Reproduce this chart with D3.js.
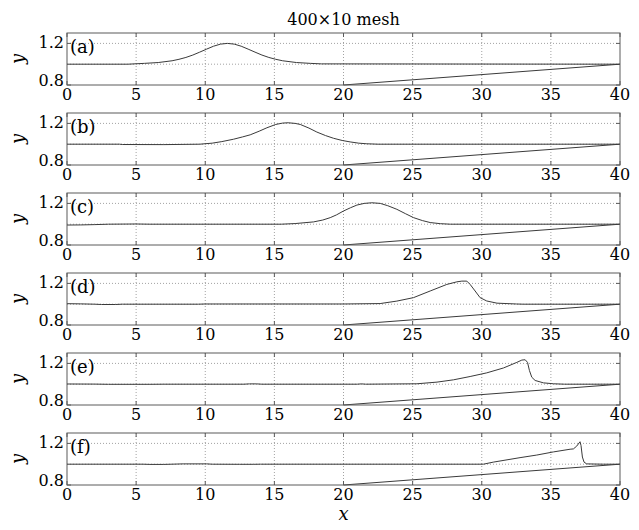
<!DOCTYPE html>
<html>
<head>
<meta charset="utf-8">
<script src="https://cdn.jsdelivr.net/npm/d3@7"></script>
<style>
  body { margin: 0; background: #fff; }
  svg { display: block; }
  text { font-family: "DejaVu Serif", "Liberation Serif", serif; fill: #000; }
</style>
</head>
<body>
<script>
// ---------- data ----------
const titleText = "400\u00d710 mesh";
const panelLabels = ["(a)", "(b)", "(c)", "(d)", "(e)", "(f)"];
const xTicks = [0, 5, 10, 15, 20, 25, 30, 35, 40];
const yTickLabels = [0.8, 1.2];
const yGrid = [1.0, 1.2];
const xDomain = [0, 40];
const yDomain = [0.8, 1.3];

// bottom topography (sloping beach)
const bottom = [[20, 0.8], [40, 1.0]];

// free-surface elevation in each panel, [x, y]
const surfA = [[0,1.0],[4.4,1.0],[5.6,1.008],[6.6,1.016],[7.6,1.033],[8.1,1.047],[8.6,1.065],[9.1,1.088],[9.6,1.116],[10.1,1.145],[10.6,1.173],[11.1,1.193],[11.6,1.2],[12.1,1.193],[12.6,1.173],[13.1,1.145],[13.6,1.116],[14.1,1.088],[14.6,1.065],[15.1,1.047],[15.6,1.033],[16.6,1.016],[17.6,1.008],[18.4,1.003],[40,1.0]];
const surfB = [[0,1.0],[3.8,1.0],[4,0.997],[7,0.996],[9.6,1.0],[10.5,1.01],[11.2,1.025],[12.05,1.048],[12.7,1.07],[13.25,1.09],[13.9,1.125],[14.46,1.158],[15.1,1.19],[15.6,1.203],[16.0,1.206],[16.5,1.2],[16.87,1.19],[17.5,1.155],[18.07,1.117],[18.7,1.083],[19.28,1.057],[19.9,1.036],[20.48,1.022],[21.1,1.01],[21.69,1.004],[22.5,1.0],[40,1.0]];
const surfC = [[0,0.992],[1,0.993],[2,0.996],[3,1.0],[5,1.002],[6,1.0],[15.5,1.0],[16.5,1.006],[17.83,1.022],[18.5,1.04],[19.04,1.063],[19.5,1.09],[20.0,1.127],[20.5,1.158],[20.97,1.184],[21.5,1.2],[22.05,1.206],[22.66,1.2],[23.2,1.178],[23.86,1.143],[24.5,1.1],[25.07,1.063],[25.7,1.035],[26.27,1.016],[27,1.005],[27.72,1.0],[40,1.0]];
const surfD = [[0,1.005],[1,1.003],[2,1.0],[2.5,0.997],[3.5,0.997],[4,1.0],[9.5,1.0],[10,1.002],[20,1.002],[22.65,1.006],[23.86,1.03],[25.06,1.063],[26.27,1.127],[27.47,1.19],[28.2,1.215],[28.56,1.222],[28.92,1.222],[29.16,1.19],[29.52,1.127],[29.88,1.063],[30.36,1.031],[31.1,1.01],[32.5,1.002],[33,1.0],[40,1.0]];
const surfE = [[0,1.002],[2,1.001],[3,0.999],[6,0.999],[7,1.0],[12.8,1.0],[13.2,1.003],[13.7,1.003],[14.1,1.0],[21,1.0],[21.3,1.003],[21.6,1.0],[25.31,1.004],[26.76,1.02],[27.95,1.042],[29.16,1.074],[30.36,1.109],[31.57,1.156],[32.54,1.21],[32.9,1.232],[33.14,1.235],[33.31,1.21],[33.45,1.131],[33.62,1.067],[33.86,1.036],[34.46,1.013],[35.19,1.004],[36,1.0],[40,1.0]];
const surfF = [[0,1.0],[5.5,1.0],[6,0.998],[7,0.998],[8.4,1.003],[10.1,1.003],[10.5,1.0],[12.5,0.999],[13.5,0.999],[14,1.0],[30.12,1.0],[30.84,1.02],[32.77,1.063],[33.98,1.088],[35.18,1.118],[36.39,1.144],[36.63,1.147],[36.87,1.174],[37.11,1.216],[37.18,1.18],[37.28,1.069],[37.4,1.02],[37.59,1.003],[38.8,1.0],[40,1.0]];
const surfaces = [surfA, surfB, surfC, surfD, surfE, surfF];

// ---------- layout ----------
const W = 639, H = 530;
const left = 67, right = 620;
const panelTop0 = 33, panelStep = 80, panelH = 52;

const svg = d3.select("body").append("svg").attr("width", W).attr("height", H);

const x = d3.scaleLinear().domain(xDomain).range([left, right]);

svg.append("text")
  .attr("x", (left + right) / 2).attr("y", 25)
  .attr("text-anchor", "middle").attr("font-size", 16)
  .text(titleText);

const line = d3.line();

surfaces.forEach((surf, i) => {
  const top = panelTop0 + i * panelStep;
  const bot = top + panelH;
  const y = d3.scaleLinear().domain(yDomain).range([bot, top]);
  const g = svg.append("g");

  // grid lines
  g.selectAll(".vg").data(xTicks.filter(t => t > xDomain[0] && t < xDomain[1]))
    .join("line")
    .attr("x1", d => x(d)).attr("x2", d => x(d))
    .attr("y1", top).attr("y2", bot)
    .attr("stroke", "#8a8a8a").attr("stroke-width", 0.8)
    .attr("stroke-dasharray", "1,2");
  g.selectAll(".hg").data(yGrid)
    .join("line")
    .attr("x1", left).attr("x2", right)
    .attr("y1", d => y(d)).attr("y2", d => y(d))
    .attr("stroke", "#8a8a8a").attr("stroke-width", 0.8)
    .attr("stroke-dasharray", "1,2");

  // bottom and surface
  g.append("path")
    .attr("d", line(bottom.map(p => [x(p[0]), y(p[1])])))
    .attr("fill", "none").attr("stroke", "#3a3a3a").attr("stroke-width", 1);
  g.append("path")
    .attr("d", line(surf.map(p => [x(p[0]), y(p[1])])))
    .attr("fill", "none").attr("stroke", "#3a3a3a").attr("stroke-width", 1)
    .attr("stroke-linejoin", "round");

  // frame
  g.append("rect")
    .attr("x", left).attr("y", top)
    .attr("width", right - left).attr("height", panelH)
    .attr("fill", "none").attr("stroke", "#5a5a5a").attr("stroke-width", 1);

  // tick marks (inward)
  const tl = 4;
  xTicks.forEach(t => {
    g.append("line").attr("x1", x(t)).attr("x2", x(t)).attr("y1", bot).attr("y2", bot - tl)
      .attr("stroke", "#5a5a5a");
    g.append("line").attr("x1", x(t)).attr("x2", x(t)).attr("y1", top).attr("y2", top + tl)
      .attr("stroke", "#5a5a5a");
  });
  yTickLabels.forEach(t => {
    g.append("line").attr("x1", left).attr("x2", left + tl).attr("y1", y(t)).attr("y2", y(t))
      .attr("stroke", "#5a5a5a");
    g.append("line").attr("x1", right).attr("x2", right - tl).attr("y1", y(t)).attr("y2", y(t))
      .attr("stroke", "#5a5a5a");
  });

  // x tick labels
  g.selectAll(".xl").data(xTicks).join("text")
    .attr("x", d => x(d)).attr("y", bot + 15)
    .attr("text-anchor", "middle").attr("font-size", 16)
    .text(d => d);

  // y tick labels
  g.selectAll(".yl").data(yTickLabels).join("text")
    .attr("x", left - 3)
    .attr("y", d => d === yTickLabels[0] ? bot + 1 : y(d) + 5)
    .attr("text-anchor", "end").attr("font-size", 16)
    .text(d => d.toFixed(1));

  // y axis label
  g.append("text")
    .attr("transform", `translate(24,${(top + bot) / 2}) rotate(-90)`)
    .attr("text-anchor", "middle").attr("font-size", 18)
    .attr("font-style", "italic")
    .text("y");

  // panel label
  g.append("text")
    .attr("x", left + 3).attr("y", top + 20)
    .attr("font-size", 18)
    .text(panelLabels[i]);
});

svg.append("text")
  .attr("x", (left + right) / 2).attr("y", 520)
  .attr("text-anchor", "middle").attr("font-size", 18)
  .attr("font-style", "italic")
  .text("x");
</script>
</body>
</html>
